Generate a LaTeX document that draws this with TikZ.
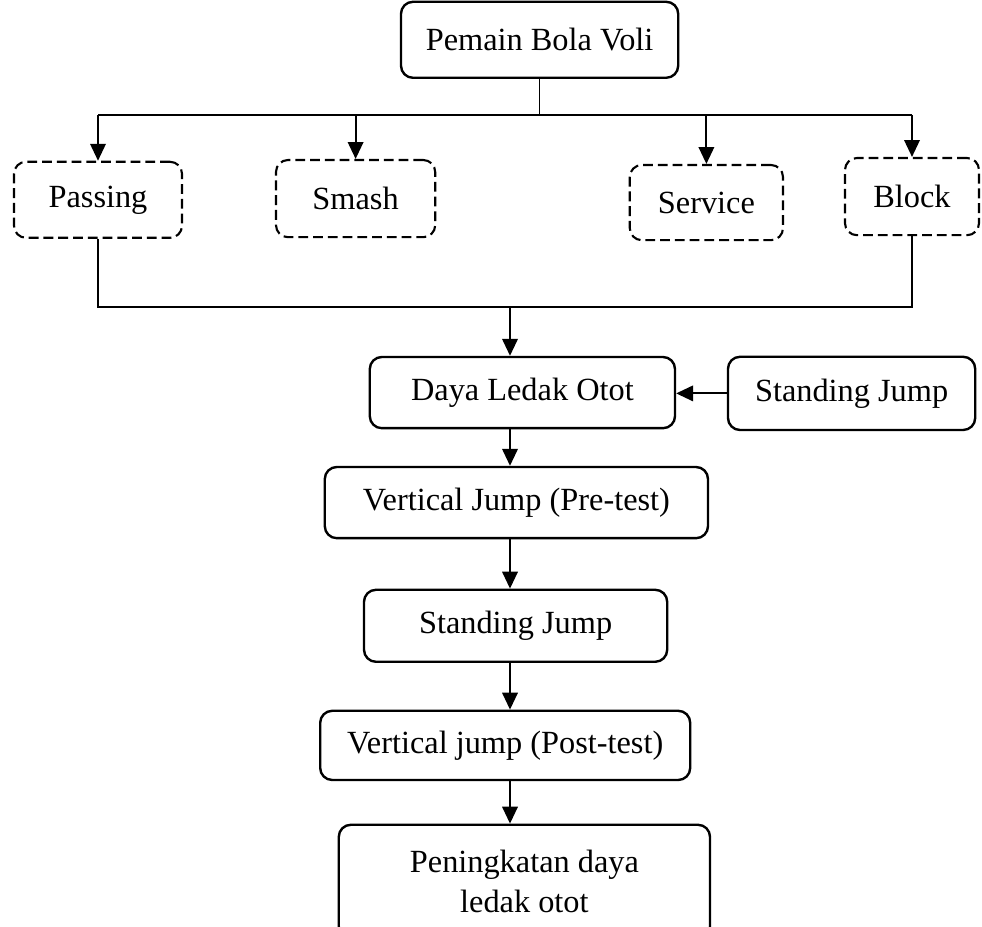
\documentclass[tikz,border=0pt]{standalone}
\usepackage{fontspec}
\setmainfont{Liberation Serif}
\usetikzlibrary{arrows.meta}

\begin{document}
\begin{tikzpicture}[
    font=\fontsize{23}{28.5}\selectfont,
    kotak/.style={rectangle,rounded corners=0.3cm,draw=black,line width=1.7pt,inner sep=0pt,align=center},
    kotakputus/.style={kotak,line width=1.5pt,dash pattern=on 7pt off 3.5pt},
    panah/.style={line width=1.4pt,-{Triangle[width=11pt,length=12pt]}},
    garis/.style={line width=0.9pt}]
    \useasboundingbox (0,0) rectangle (24.55,23.175);
    \node[kotak,minimum width=6.93cm,minimum height=1.9cm] (pemain) at (13.49,22.18) {Pemain Bola Voli};
    \node[kotakputus,minimum width=4.2cm,minimum height=1.9cm] (passing) at (2.45,18.18) {Passing};
    \node[kotakputus,minimum width=3.98cm,minimum height=1.93cm] (smash) at (8.89,18.21) {Smash};
    \node[kotakputus,minimum width=3.83cm,minimum height=1.88cm] (service) at (17.66,18.11) {Service};
    \node[kotakputus,minimum width=3.35cm,minimum height=1.93cm] (block) at (22.8,18.26) {Block};
    \node[kotak,minimum width=7.63cm,minimum height=1.78cm] (daya) at (13.06,13.36) {Daya Ledak Otot};
    \node[kotak,minimum width=6.18cm,minimum height=1.83cm] (sj1) at (21.29,13.34) {Standing Jump};
    \node[kotak,minimum width=9.58cm,minimum height=1.78cm] (pre) at (12.91,10.61) {Vertical Jump (Pre-test)};
    \node[kotak,minimum width=7.58cm,minimum height=1.8cm] (sj2) at (12.89,7.53) {Standing Jump};
    \node[kotak,minimum width=9.25cm,minimum height=1.73cm] (post) at (12.63,4.54) {Vertical jump (Post-test)};
    \node[kotak,minimum width=9.28cm,minimum height=2.85cm] (hasil) at (13.11,1.13) {Peningkatan daya\\ledak otot};
    % titik bantu untuk garis
    \coordinate (busatas) at (0,20.3);
    \coordinate (busbawah) at (0,15.5);
    \coordinate (tulang) at (12.75,0);
    \draw[garis] (pemain.south) -- (pemain.south |- busatas);
    \draw[garis] (passing.north |- busatas) -- (block.north |- busatas);
    \draw[panah] (passing.north |- busatas) -- (passing.north);
    \draw[panah] (smash.north |- busatas) -- (smash.north);
    \draw[panah] (service.north |- busatas) -- (service.north);
    \draw[panah] (block.north |- busatas) -- (block.north);
    \draw[garis] (passing.south) -- (passing.south |- busbawah) -- (block.south |- busbawah) -- (block.south);
    \draw[panah] (tulang |- busbawah) -- (tulang |- daya.north);
    \draw[panah] (sj1.west) -- (sj1.west -| daya.east);
    \draw[panah] (tulang |- daya.south) -- (tulang |- pre.north);
    \draw[panah] (tulang |- pre.south) -- (tulang |- sj2.north);
    \draw[panah] (tulang |- sj2.south) -- (tulang |- post.north);
    \draw[panah] (tulang |- post.south) -- (tulang |- hasil.north);
\end{tikzpicture}
\end{document}
